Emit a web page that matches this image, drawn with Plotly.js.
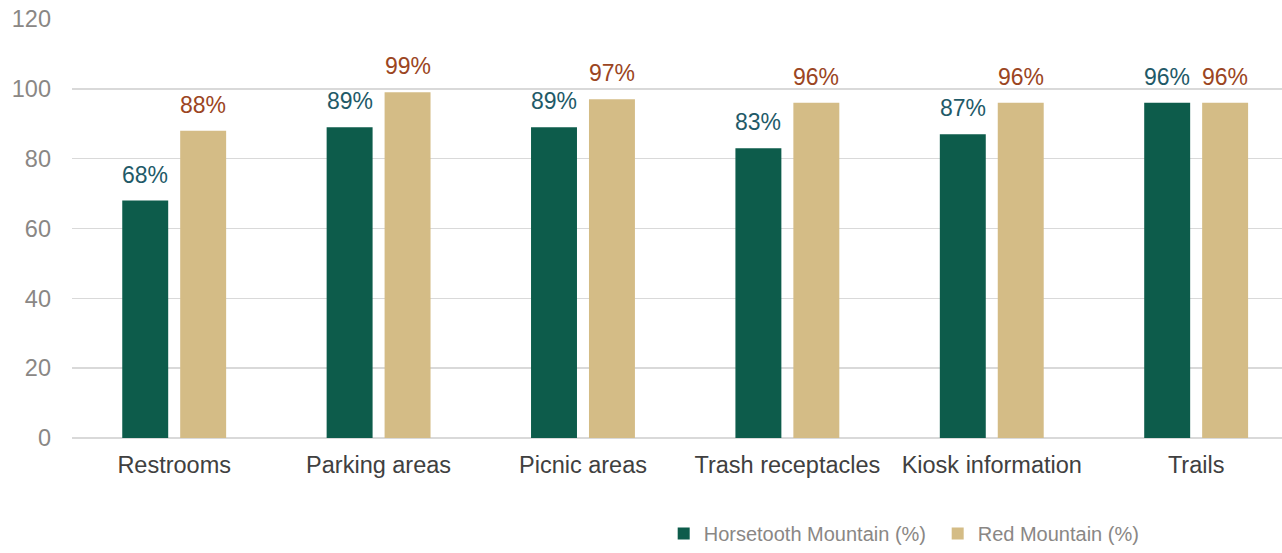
<!DOCTYPE html>
<html>
<head>
<meta charset="utf-8">
<script src="https://cdn.plot.ly/plotly-3.0.1.min.js"></script>
<style>
  html, body { margin: 0; padding: 0; background: #fff; }
  #chart { width: 1282px; height: 553px; }
</style>
</head>
<body>
<div id="chart"></div>
<script>
var categories = ['Restrooms', 'Parking areas', 'Picnic areas', 'Trash receptacles', 'Kiosk information', 'Trails'];
var horsetooth = [68, 89, 89, 83, 87, 96];
var redMountain = [88, 99, 97, 96, 96, 96];

var greenBar = '#0d5c4b';
var tanBar = '#d4bc86';
var greenLabel = '#1f5a68';
var tanLabel = '#9b4522';

var trace1 = {
    x: categories,
    y: horsetooth,
    name: 'Horsetooth Mountain (%)',
    type: 'bar',
    marker: { color: greenBar },
    hoverinfo: 'skip'
};

var trace2 = {
    x: categories,
    y: redMountain,
    name: 'Red Mountain (%)',
    type: 'bar',
    marker: { color: tanBar },
    hoverinfo: 'skip'
};

// value labels above each bar
var labels = [];
categories.forEach(function (c, i) {
    labels.push({
        x: i - 0.142, y: horsetooth[i], xref: 'x', yref: 'y',
        text: horsetooth[i] + '%', showarrow: false,
        yanchor: 'bottom', yshift: 11,
        font: { size: 23, color: greenLabel }
    });
    labels.push({
        x: i + 0.142, y: redMountain[i], xref: 'x', yref: 'y',
        text: redMountain[i] + '%', showarrow: false,
        yanchor: 'bottom', yshift: 11,
        font: { size: 23, color: tanLabel }
    });
});

var layout = {
    width: 1282,
    height: 553,
    barmode: 'group',
    bargap: 0.433,
    bargroupgap: 0.207,
    margin: { l: 72, r: 0, t: 19, b: 115 },
    font: { family: 'Liberation Sans, Arial, sans-serif' },
    paper_bgcolor: '#fff',
    plot_bgcolor: '#fff',
    xaxis: {
        type: 'category',
        range: [-0.5, 5.42],
        showgrid: false,
        showline: false,
        ticks: '',
        tickfont: { size: 23.5, color: '#404040' },
        ticklabelstandoff: 10
    },
    yaxis: {
        range: [0, 120],
        dtick: 20,
        showgrid: true,
        gridcolor: '#d9d9d9',
        gridwidth: 1.5,
        zeroline: true,
        zerolinecolor: '#d9d9d9',
        zerolinewidth: 1.5,
        showline: false,
        ticks: '',
        tickfont: { size: 23.5, color: '#8a8785' },
        ticklabelstandoff: 20
    },
    showlegend: true,
    legend: {
        orientation: 'h',
        x: 0.489,
        xanchor: 'left',
        y: -0.05,
        yref: 'container',
        yanchor: 'bottom',
        font: { size: 20, color: '#8a8785' },
        entrywidth: 229,
        entrywidthmode: 'pixels',
        itemclick: false
    },
    annotations: labels
};

Plotly.newPlot('chart', [trace1, trace2], layout, { displayModeBar: false, staticPlot: true });
</script>
</body>
</html>
